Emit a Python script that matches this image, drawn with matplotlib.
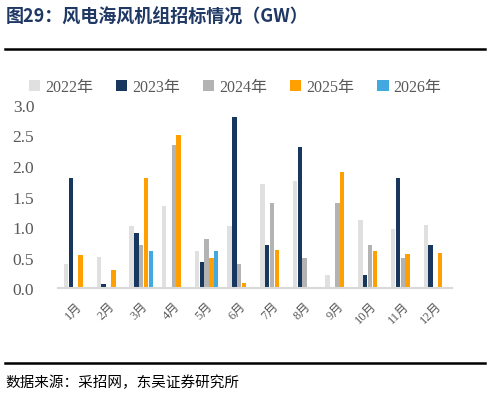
import numpy as np
import matplotlib.pyplot as plt

plt.rcParams['font.family'] = ['Liberation Serif', 'Noto Sans CJK SC']

months = ['1月', '2月', '3月', '4月', '5月', '6月', '7月', '8月', '9月', '10月', '11月', '12月']
years = ['2022年', '2023年', '2024年', '2025年', '2026年']
v2022 = [0.40, 0.51, 1.01, 1.35, 0.61, 1.01, 1.71, 1.76, 0.21, 1.12, 0.96, 1.04]
v2023 = [1.81, 0.06, 0.91, 0.00, 0.43, 2.81, 0.71, 2.31, 0.00, 0.21, 1.81, 0.71]
v2024 = [0.00, 0.00, 0.70, 2.35, 0.80, 0.40, 1.40, 0.50, 1.40, 0.71, 0.50, 0.00]
v2025 = [0.55, 0.30, 1.80, 2.50, 0.50, 0.09, 0.62, 0.00, 1.90, 0.60, 0.56, 0.58]
v2026 = [0.00, 0.00, 0.60, 0.00, 0.60, 0.00, 0.00, 0.00, 0.00, 0.00, 0.00, 0.00]
series = [v2022, v2023, v2024, v2025, v2026]
colors = ['#E0E0E0', '#17375E', '#B3B3B3', '#FFA000', '#41A8E0']

fig = plt.figure(figsize=(4.9, 4.06), dpi=100)
ax = fig.add_axes([0.118, 0.288, 0.804, 0.451])

x = np.arange(len(months))
w = 0.148
for i, (vals, c) in enumerate(zip(series, colors)):
    ax.bar(x + (i - 2) * w, vals, width=w * 0.92, color=c, label=years[i], zorder=2)

ax.set_ylim(0, 3.0)
ax.set_xlim(-0.55, 11.5)
ax.set_yticks(np.arange(0, 3.01, 0.5))
ax.set_yticklabels(['%.1f' % v for v in np.arange(0, 3.01, 0.5)], fontsize=12.5, color='#595959')
ax.tick_params(axis='y', length=0, pad=17)
ax.set_xticks(x)
ax.set_xticklabels(months, rotation=45, ha='right', rotation_mode='anchor', fontsize=9, color='#595959')
ax.tick_params(axis='x', length=0, pad=8)
for s in ['top', 'right', 'left']:
    ax.spines[s].set_visible(False)
ax.spines['bottom'].set_color('#D9D9D9')
ax.spines['bottom'].set_linewidth(1.5)

ax.legend(loc='lower center', bbox_to_anchor=(0.45, 1.02), ncol=5, frameon=False,
          fontsize=11.5, labelcolor='#595959', handlelength=0.7, handleheight=0.7,
          handletextpad=0.3, columnspacing=1.45, borderaxespad=0)

fig.text(0.012, 0.958, '图29：风电海风机组招标情况（GW）', fontsize=13, fontweight='bold',
         color='#1F3864', family=['Noto Sans CJK SC'], va='center')
fig.add_artist(plt.Line2D([0.01, 0.99], [0.877, 0.877], color='black', lw=1.8))
fig.add_artist(plt.Line2D([0.01, 0.99], [0.104, 0.104], color='black', lw=1.8))
fig.text(0.012, 0.058, '数据来源：采招网，东吴证券研究所', fontsize=10.5, color='black',
         family=['Noto Sans CJK SC'], va='center')

fig.savefig('out.png', dpi=100)
